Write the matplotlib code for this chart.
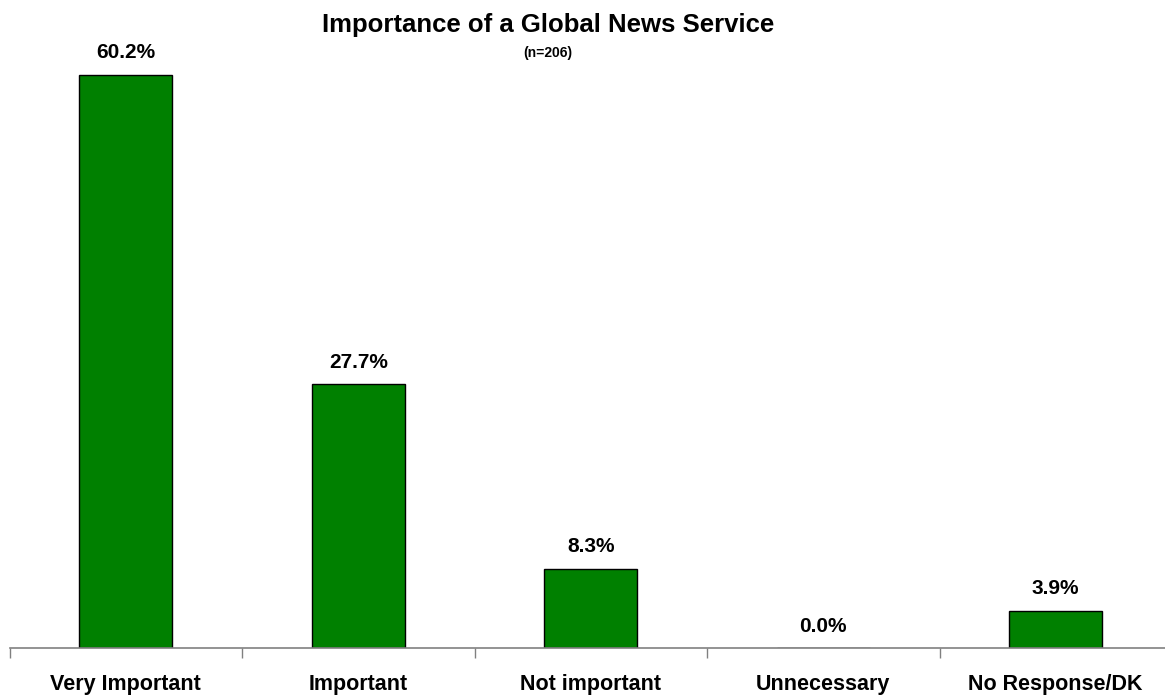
import numpy as np
import matplotlib.pyplot as plt

plt.rcParams['font.family'] = ['Liberation Sans', 'DejaVu Sans']

categories = ["Very Important", "Important", "Not important", "Unnecessary", "No Response/DK"]
shares = [60.2, 27.7, 8.3, 0.0, 3.9]

fig = plt.figure(figsize=(11.65, 6.97), dpi=100)
W, H = 1165, 697
# axes runs a little past the right edge so the last category is cut like the others
left, right = 9.5, 1172.0
bottom, top = 49.0, 49.0 + 619.0
ax = fig.add_axes([left / W, bottom / H, (right - left) / W, (top - bottom) / H])

x = np.arange(len(categories))
ax.bar(x, shares, width=0.4, color="#008000", edgecolor="black", linewidth=1.0)

for xi, v in zip(x, shares):
    ax.annotate(f"{v:.1f}%", (xi, v), xytext=(0, 9), textcoords="offset points",
                ha="center", va="bottom", fontsize=15, fontweight="bold")

ax.set_xlim(-0.5, len(categories) - 0.5)
ax.set_ylim(0, 65)

ax.set_xticks(x)
ax.set_xticklabels(categories, fontsize=15.5, fontweight="bold")
ax.tick_params(axis="x", which="major", length=0, pad=19)
ax.set_xticks(np.arange(len(categories) + 1) - 0.5, minor=True)
ax.tick_params(axis="x", which="minor", length=7, width=1, color="#808080")
ax.set_yticks([])

for s in ["left", "right", "top"]:
    ax.spines[s].set_visible(False)
ax.spines["bottom"].set_color("#808080")
ax.spines["bottom"].set_linewidth(1.2)

fig.text(548 / W, 1 - 25 / H, "Importance of a Global News Service",
         ha="center", va="center", fontsize=18.5, fontweight="bold")
fig.text(548 / W, 1 - 53 / H, "(n=206)", ha="center", va="center",
         fontsize=10, fontweight="bold")

fig.savefig("out.png", dpi=100)
